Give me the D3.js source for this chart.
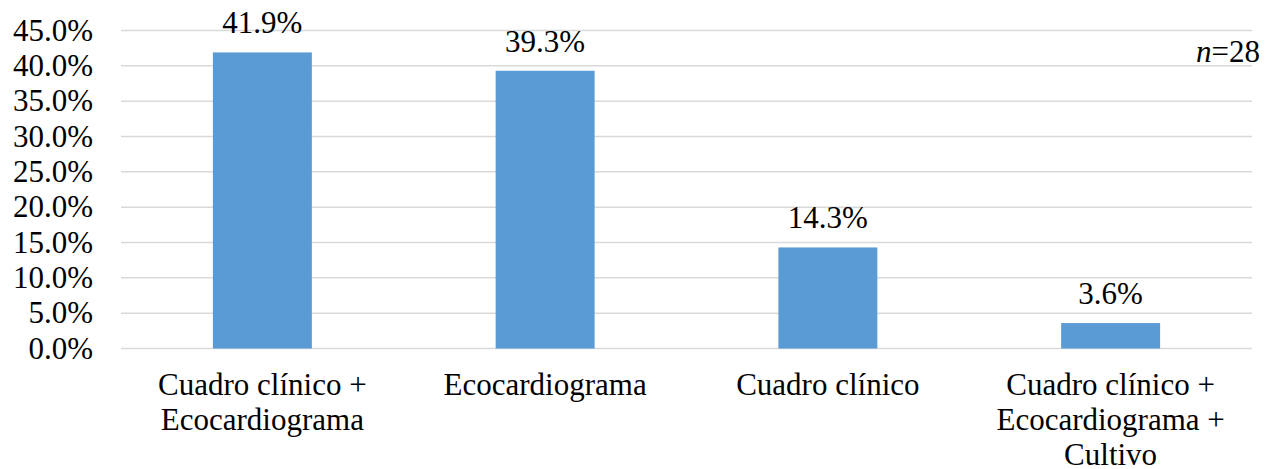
<!DOCTYPE html>
<html>
<head>
<meta charset="utf-8">
<script src="https://cdn.jsdelivr.net/npm/d3@7"></script>
<style>
  html, body { margin: 0; padding: 0; background: #ffffff; }
  svg { display: block; }
</style>
</head>
<body>
<svg id="chart" width="1278" height="469"></svg>
<script>
// Diagnostic method, share of cases (%)
const categories = [
  ["Cuadro clínico +", "Ecocardiograma"],
  ["Ecocardiograma"],
  ["Cuadro clínico"],
  ["Cuadro clínico +", "Ecocardiograma +", "Cultivo"]
];
const values = [41.9, 39.3, 14.3, 3.6];
const yTicks = [0, 5, 10, 15, 20, 25, 30, 35, 40, 45];
const sampleNote = "28";

const FONT = "Liberation Serif";
const FS = "31px";
const svg = d3.select("#chart");
const margin = { left: 121, right: 1252, top: 30.5, bottom: 348.5 };

const x = d3.scaleBand()
  .domain(d3.range(values.length))
  .range([margin.left, margin.right])
  .paddingInner(0.65)
  .paddingOuter(0.325);

const y = d3.scaleLinear()
  .domain([0, 45])
  .range([margin.bottom, margin.top]);

// horizontal gridlines
svg.append("g")
  .selectAll("line")
  .data(yTicks)
  .join("line")
  .attr("x1", margin.left)
  .attr("x2", margin.right)
  .attr("y1", d => y(d))
  .attr("y2", d => y(d))
  .attr("stroke", "#d9d9d9")
  .attr("stroke-width", 1.5);

// y-axis tick labels
svg.append("g")
  .selectAll("text")
  .data(yTicks)
  .join("text")
  .attr("x", 93)
  .attr("y", d => y(d) + 10)
  .attr("text-anchor", "end")
  .style("font-family", FONT)
  .style("font-size", FS)
  .text(d => d.toFixed(1) + "%");

// bars
svg.append("g")
  .selectAll("rect")
  .data(values)
  .join("rect")
  .attr("x", (d, i) => x(i))
  .attr("width", x.bandwidth())
  .attr("y", d => y(d))
  .attr("height", d => y(0) - y(d))
  .attr("fill", "#5b9bd5");

// value labels
svg.append("g")
  .selectAll("text")
  .data(values)
  .join("text")
  .attr("x", (d, i) => x(i) + x.bandwidth() / 2)
  .attr("y", d => y(d) - 19)
  .attr("text-anchor", "middle")
  .style("font-family", FONT)
  .style("font-size", FS)
  .text(d => d.toFixed(1) + "%");

// category labels (multi-line)
const cat = svg.append("g")
  .selectAll("text")
  .data(categories)
  .join("text")
  .attr("text-anchor", "middle")
  .style("font-family", FONT)
  .style("font-size", FS);
cat.selectAll("tspan")
  .data((d, i) => d.map(line => ({ line, i })))
  .join("tspan")
  .attr("x", d => x(d.i) + x.bandwidth() / 2)
  .attr("y", (d, j) => 395 + j * 35)
  .text(d => d.line);

// sample size note
const note = svg.append("text")
  .attr("x", 1260)
  .attr("y", 62)
  .attr("text-anchor", "end")
  .style("font-family", FONT)
  .style("font-size", FS);
note.append("tspan").style("font-style", "italic").text("n");
note.append("tspan").text("=" + sampleNote);
</script>
</body>
</html>
